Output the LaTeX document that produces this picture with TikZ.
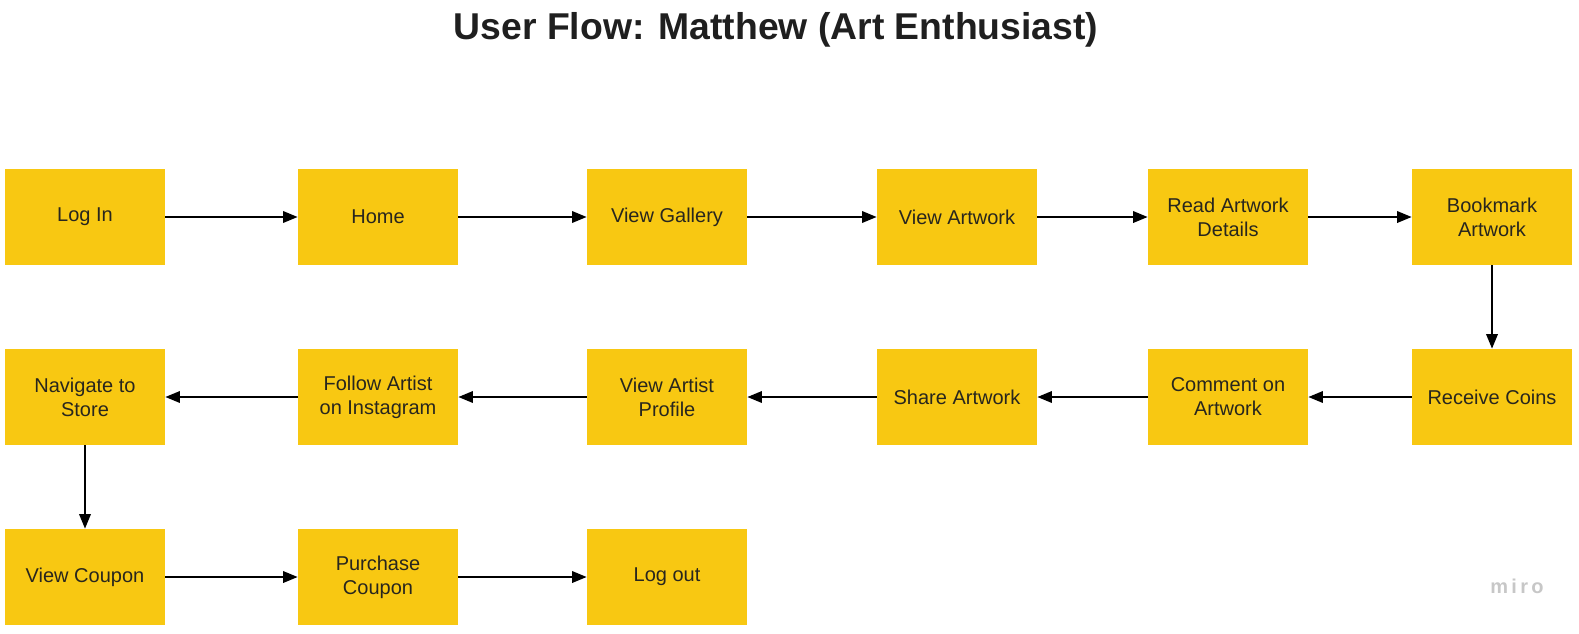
\documentclass[tikz,border=0pt]{standalone}
\usepackage{fontspec}
\setmainfont{Liberation Sans}
\usetikzlibrary{arrows.meta}
\definecolor{stickyyellow}{RGB}{248,200,18}
\definecolor{textdark}{RGB}{40,38,30}
\tikzset{
  step box/.style={fill=stickyyellow, minimum width=120pt, minimum height=72pt, align=center, text=textdark, font=\fontsize{15}{18}\selectfont, inner sep=0pt},
  flow/.style={line width=1.8pt, -{Triangle[length=11pt,width=8.5pt]}}
}
\begin{document}
\begin{tikzpicture}[x=0.75pt, y=-0.75pt]
		%%%%% START %%%%%
		\useasboundingbox (0, 0) rectangle (1579, 633);
		
		\node[font=\fontsize{28}{30}\bfseries\selectfont, text=black!88] (title) at (776, 30) {User Flow: Matthew (Art Enthusiast)};
		
		\node[step box] (login) at (85, 217) {Log In};
		\node[step box] (home) at (378, 217) {Home};
		\node[step box] (gallery) at (667, 217) {View Gallery};
		\node[step box] (artwork) at (957, 217) {View Artwork};
		\node[step box] (details) at (1228, 217) {Read Artwork\\Details};
		\node[step box] (bookmark) at (1492, 217) {Bookmark\\Artwork};
		
		\node[step box] (coins) at (1492, 397) {Receive Coins};
		\node[step box] (comment) at (1228, 397) {Comment on\\Artwork};
		\node[step box] (share) at (957, 397) {Share Artwork};
		\node[step box] (profile) at (667, 397) {View Artist\\Profile};
		\node[step box] (insta) at (378, 397) {Follow Artist\\on Instagram};
		\node[step box] (store) at (85, 397) {Navigate to\\Store};
		
		\node[step box] (coupon) at (85, 577) {View Coupon};
		\node[step box] (purchase) at (378, 577) {Purchase\\Coupon};
		\node[step box] (logout) at (667, 577) {Log out};
		
		\draw[flow] (login) -- (home);
		\draw[flow] (home) -- (gallery);
		\draw[flow] (gallery) -- (artwork);
		\draw[flow] (artwork) -- (details);
		\draw[flow] (details) -- (bookmark);
		\draw[flow] (bookmark) -- (coins);
		\draw[flow] (coins) -- (comment);
		\draw[flow] (comment) -- (share);
		\draw[flow] (share) -- (profile);
		\draw[flow] (profile) -- (insta);
		\draw[flow] (insta) -- (store);
		\draw[flow] (store) -- (coupon);
		\draw[flow] (coupon) -- (purchase);
		\draw[flow] (purchase) -- (logout);
		
		\node[font=\fontsize{15}{17}\bfseries\selectfont, text=black!22] (miro) at (1517, 586) {m\,i\,r\,o};
		
		%%%%% END %%%%%
\end{tikzpicture}
\end{document}
